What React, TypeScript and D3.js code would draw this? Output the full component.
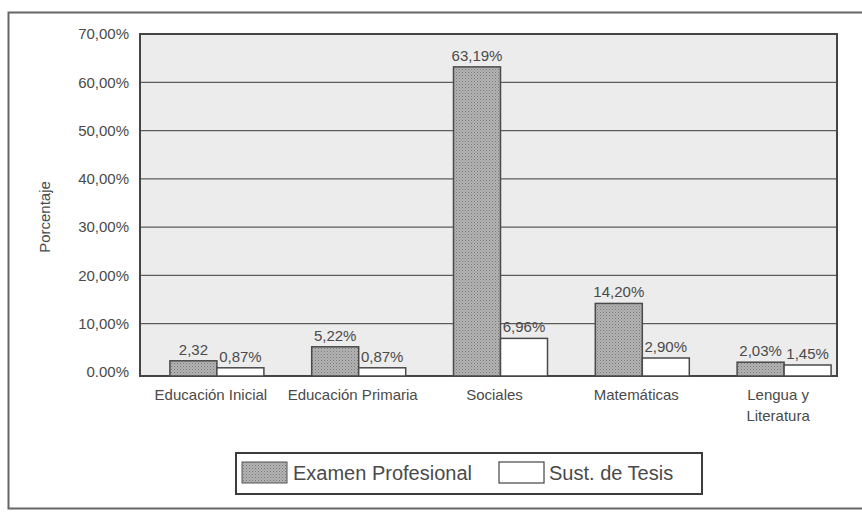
import * as React from 'react';
import { scaleBand, scaleLinear } from 'd3';

const categories = ['Educación Inicial', 'Educación Primaria', 'Sociales', 'Matemáticas', 'Lengua y|Literatura'];
const examen = [2.32, 5.22, 63.19, 14.2, 2.03];
const tesis = [0.87, 0.87, 6.96, 2.9, 1.45];
const examenLabels = ['2,32', '5,22%', '63,19%', '14,20%', '2,03%'];
const tesisLabels = ['0,87%', '0,87%', '6,96%', '2,90%', '1,45%'];
const yTicks = [0, 10, 20, 30, 40, 50, 60, 70];
const yTickLabels = ['0.00%', '10,00%', '20,00%', '30,00%', '40,00%', '50,00%', '60,00%', '70,00%'];
const seriesNames = ['Examen Profesional', 'Sust. de Tesis'];

const W = 862;
const H = 513;
const plot = { left: 140, top: 34, right: 837, bottom: 376 };
const font = '"Liberation Sans", Arial, sans-serif';
const ink = '#4a4a4a';

const App = () => {
    const x0 = scaleBand().domain(categories).range([146, 855]).padding(0);
    const x1 = scaleBand().domain(['e', 't']).range([0, 94]);
    // the printed gridlines sit a little above the drawn baseline
    const y = scaleLinear().domain([0, 70]).range([372, plot.top]);
    const off = (x0.bandwidth() - 94) / 2;

    return (
        <svg width={W} height={H} style={{ position: 'absolute', left: 0, top: 0, background: '#fff' }} fontFamily={font}>
            <defs>
                <pattern id="dots" width="3" height="3" patternUnits="userSpaceOnUse">
                    <rect width="3" height="3" fill="#b4b4b4" />
                    <rect width="1" height="1" fill="#787878" />
                    <rect x="1.5" y="1.5" width="1" height="1" fill="#8a8a8a" />
                </pattern>
            </defs>
            {/* outer frame */}
            <rect x={8.5} y={12.5} width={W + 10} height={496} fill="none" stroke="#666" strokeWidth={2} />

            {/* plot area */}
            <rect x={plot.left} y={plot.top} width={plot.right - plot.left} height={plot.bottom - plot.top} fill="#ececec" />
            {yTicks.slice(1, -1).map(t => (
                <line key={t} x1={plot.left} x2={plot.right} y1={y(t)} y2={y(t)} stroke="#5c5c5c" strokeWidth={1.2} />
            ))}
            <rect x={plot.left} y={plot.top} width={plot.right - plot.left} height={plot.bottom - plot.top} fill="none" stroke="#444" strokeWidth={2} />

            {yTicks.map((t, i) => (
                <text key={t} x={129} y={y(t)} dy="0.35em" textAnchor="end" fontSize={15} fill={ink}>{yTickLabels[i]}</text>
            ))}
            <text transform={`translate(50,217) rotate(-90)`} textAnchor="middle" fontSize={15} fill={ink}>Porcentaje</text>

            {categories.map((c, i) => {
                const bx = (x0(c) || 0) + off;
                const ex = bx + (x1('e') || 0);
                const tx = bx + (x1('t') || 0);
                const bw = x1.bandwidth();
                const cx = (x0(c) || 0) + x0.bandwidth() / 2;
                const lines = c.split('|');
                return (
                    <g key={c}>
                        <rect x={ex} y={y(examen[i])} width={bw} height={plot.bottom - y(examen[i])} fill="url(#dots)" stroke="#4a4a4a" strokeWidth={1.5} />
                        <rect x={tx} y={y(tesis[i])} width={bw} height={plot.bottom - y(tesis[i])} fill="#fff" stroke="#4a4a4a" strokeWidth={1.5} />
                        <text x={ex + bw / 2} y={y(examen[i]) - 6} textAnchor="middle" fontSize={15} fill={ink}>{examenLabels[i]}</text>
                        <text x={tx + bw / 2} y={y(tesis[i]) - 6} textAnchor="middle" fontSize={15} fill={ink}>{tesisLabels[i]}</text>
                        {lines.map((l, k) => (
                            <text key={k} x={cx - 6} y={400 + k * 21} textAnchor="middle" fontSize={15} fill={ink}>{l}</text>
                        ))}
                    </g>
                );
            })}

            {/* legend */}
            <rect x={236} y={453} width={466} height={41} fill="#fff" stroke="#3c3c3c" strokeWidth={2} />
            <rect x={242} y={462} width={45} height={21} fill="url(#dots)" stroke="#555" strokeWidth={1} />
            <text x={293} y={480} fontSize={20} fill={ink}>{seriesNames[0]}</text>
            <rect x={499} y={462} width={45} height={21} fill="#fff" stroke="#444" strokeWidth={1.2} />
            <text x={549} y={480} fontSize={20} fill={ink}>{seriesNames[1]}</text>
        </svg>
    );
};

export default App;
